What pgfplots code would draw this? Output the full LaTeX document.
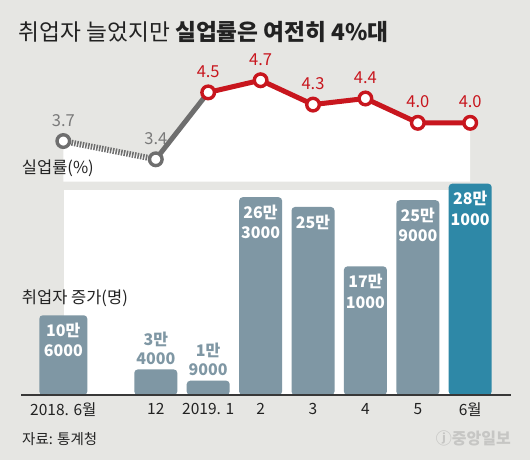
\documentclass[border=0pt]{standalone}
\usepackage{fontspec}
\usepackage{pgfplots}
\pgfplotsset{compat=1.18}
\setmainfont{Noto Sans CJK KR}
\newfontfamily\kr{Noto Sans CJK KR}
\definecolor{bg}{HTML}{E6E6E3}
\definecolor{barc}{HTML}{7F97A4}
\definecolor{barl}{HTML}{2E88A7}
\definecolor{redc}{HTML}{C8161E}
\definecolor{grayl}{HTML}{6E6E6E}
\definecolor{graytxt}{HTML}{7A7A7A}
\definecolor{dark}{HTML}{222222}
\definecolor{logoc}{HTML}{C6C6C4}
\begin{document}
\kr
\begin{tikzpicture}
\fill[bg] (0,0) rectangle (530pt,460pt);
\path[use as bounding box] (0,0) rectangle (530pt,460pt);

% ---- unemployment rate (line) ----
\begin{axis}[at={(21pt,278.3pt)}, anchor=south west, scale only axis,
  width=490pt, height=181.7pt, xmin=21, xmax=511, ymin=3.0316, ymax=6.02,
  axis lines=none, clip=false]
  \addplot[fill=white, draw=none] coordinates {(63.3,3.0316) (63.3,3.7) (155.8,3.4) (208.2,4.5) (260.6,4.7) (313,4.3) (365.4,4.4) (417.8,4.0) (470.2,4.0) (470.2,3.0316)};
  \addplot[no marks, grayl, line width=6pt, dash pattern=on 1.5pt off 1.3pt] coordinates {(63.3,3.7) (155.8,3.4)};
  \addplot[no marks, grayl, line width=5pt] coordinates {(155.8,3.4) (208.2,4.5)};
  \addplot[no marks, redc, line width=5pt, line join=round] coordinates {(208.2,4.5) (260.6,4.7) (313,4.3) (365.4,4.4) (417.8,4.0) (470.2,4.0)};
  \addplot[only marks, mark=*, mark size=6.3pt, mark options={fill=white, draw=grayl, line width=3.4pt},
    nodes near coords={\pgfmathprintnumber[fixed,precision=1,fixed zerofill,assume math mode=true]{\pgfplotspointmeta}},
    every node near coord/.style={anchor=south, yshift=13pt, inner sep=0pt, font=\fontsize{16.5}{19}\selectfont, text=graytxt}]
    coordinates {(63.3,3.7) (155.8,3.4)};
  \addplot[only marks, mark=*, mark size=6.3pt, mark options={fill=white, draw=redc, line width=3.4pt},
    nodes near coords={\pgfmathprintnumber[fixed,precision=1,fixed zerofill,assume math mode=true]{\pgfplotspointmeta}},
    every node near coord/.style={anchor=south, yshift=13pt, inner sep=0pt, font=\fontsize{16.5}{19}\selectfont, text=redc}]
    coordinates {(208.2,4.5) (260.6,4.7) (313,4.3) (365.4,4.4) (417.8,4.0) (470.2,4.0)};
\end{axis}

% ---- employment increase (bars) ----
\begin{axis}[at={(21pt,65pt)}, anchor=south west, scale only axis,
  width=490pt, height=395pt, xmin=21, xmax=511, ymin=0, ymax=525266,
  axis y line=none, axis x line=bottom, axis on top,
  /pgf/number format/assume math mode=true,
  x axis line style={-, draw=dark!90, line width=2pt},
  xtick={63.3,155.8,208.2,260.6,313,365.4,417.8,470.2},
  xticklabels={\mbox{2018. 6월},\mbox{12},\mbox{2019. 1},\mbox{2},\mbox{3},\mbox{4},\mbox{5},\mbox{6월}},
  major tick length=0pt,
  xticklabel style={font=\kr\fontsize{15.5}{18}\selectfont, text=dark, yshift=-4.5pt},
  clip=false]
  \fill[white] (axis cs:64.3,0) rectangle (axis cs:470.2,272606);
  % inside labels, grey-blue
  \addplot[ybar, bar shift=0pt, bar width=48, fill=barc, draw=none, rounded corners=3.5pt,
    point meta=explicit symbolic, nodes near coords,
    every node near coord/.style={anchor=north, yshift=-7.5pt, inner sep=0pt, align=center,
      font=\bfseries\fontsize{16}{20.5}\selectfont, text=white}]
    coordinates {(63.3,106000) [10만\\6000]};
  \addplot[ybar, bar shift=0pt, bar width=43, fill=barc, draw=none, rounded corners=3.5pt,
    point meta=explicit symbolic, nodes near coords,
    every node near coord/.style={anchor=north, yshift=-7.5pt, inner sep=0pt, align=center,
      font=\bfseries\fontsize{16}{20.5}\selectfont, text=white}]
    coordinates {(260.6,263000) [26만\\3000] (313,250000) [25만] (365.4,171000) [17만\\1000] (417.8,259000) [25만\\9000]};
  % above labels
  \addplot[ybar, bar shift=0pt, bar width=43, fill=barc, draw=none, rounded corners=3.5pt,
    point meta=explicit symbolic, nodes near coords,
    every node near coord/.style={anchor=south, yshift=5pt, inner sep=0pt, align=center,
      font=\bfseries\fontsize{16}{19}\selectfont, text=barc}]
    coordinates {(155.8,34000) [3만\\4000] (208.2,19000) [1만\\9000]};
  % latest month
  \addplot[ybar, bar shift=0pt, bar width=43, fill=barl, draw=none, rounded corners=3.5pt,
    point meta=explicit symbolic, nodes near coords,
    every node near coord/.style={anchor=north, yshift=-7.5pt, inner sep=0pt, align=center,
      font=\bfseries\fontsize{16}{20.5}\selectfont, text=white}]
    coordinates {(470.2,281000) [28만\\1000]};
\end{axis}

% ---- texts ----
\node[anchor=west, inner sep=0pt, text=dark, font=\fontsize{22.7}{26}\selectfont] at (18.6pt,428.3pt) {취업자 늘었지만 {\bfseries 실업률은 여전히 4\%대}};
\node[anchor=west, inner sep=0pt, text=dark, font=\fontsize{16.5}{20}\selectfont] at (21.7pt,291.7pt) {실업률(\%)};
\node[anchor=west, inner sep=0pt, text=dark, font=\fontsize{16.5}{20}\selectfont] at (21.7pt,161.7pt) {취업자 증가(명)};
\node[anchor=west, inner sep=0pt, text=dark, font=\fontsize{14.5}{18}\selectfont] at (22pt,20.7pt) {자료: 통계청};
\node[anchor=east, inner sep=0pt, text=logoc, font=\bfseries\fontsize{16}{19}\selectfont] at (511pt,21.7pt) {ⓙ중앙일보};
\end{tikzpicture}
\end{document}
